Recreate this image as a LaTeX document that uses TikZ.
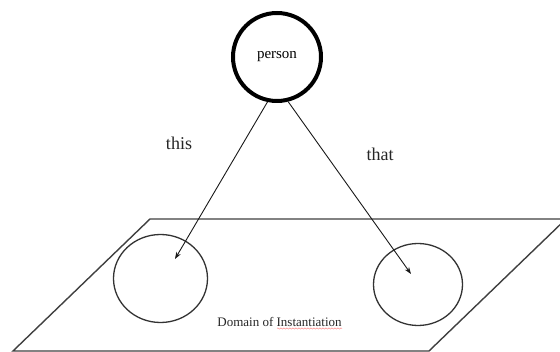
\documentclass[tikz,border=0pt]{standalone}
\usepackage{fontspec}
\setmainfont{Liberation Serif}
\usetikzlibrary{shapes.geometric,arrows.meta,decorations.pathmorphing}
\tikzset{
  concept/.style={circle,draw=black,line width=4pt,minimum size=88pt,inner sep=0pt,font=\fontsize{15}{18}\selectfont},
  instance/.style={ellipse,draw=black!80,line width=1.3pt,inner sep=0pt},
  link/.style={draw=black!90,line width=0.9pt,-{Stealth[length=7pt,width=5pt]}},
  plane/.style={draw=black!75,line width=1.4pt,line join=miter},
  lbl/.style={font=\fontsize{18}{21}\selectfont,text=black!85},
  dom/.style={font=\fontsize{13}{15}\selectfont,text=black!85},
  squiggle/.style={draw=red!45,line width=0.5pt,decorate,decoration={snake,amplitude=0.6pt,segment length=3pt}}
}
\begin{document}
\begin{tikzpicture}[x=1pt,y=-1pt]
\useasboundingbox[fill=white] (0,0) rectangle (560,352);
% plane
\coordinate (p1) at (150,219);
\coordinate (p2) at (566,219);
\coordinate (p3) at (429,351);
\coordinate (p4) at (13,351);
\draw[plane] (p1) -- (p2) -- (p3) -- (p4) -- cycle;
% instance circles
\node[instance,minimum width=94pt,minimum height=88pt] (c1) at (160.5,278.5) {};
\node[instance,minimum width=89pt,minimum height=82pt] (c2) at (418,284.5) {};
% concept
\node[concept] (person) at (277,57) {person};
% arrow tips
\coordinate (t1) at (175,259);
\coordinate (t2) at (411,274);
\draw[link] (person.258) -- (t1);
\draw[link] (person.284) -- (t2);
% labels
\node[lbl] (this) at (179,143) {this};
\node[lbl] (that) at (380,154) {that};
\node[dom] (domain) at (279.5,322) {Domain of Instantiation};
\coordinate (u1) at (277,328.5);
\coordinate (u2) at (342,328.5);
\draw[squiggle] (u1) -- (u2);
\end{tikzpicture}
\end{document}
